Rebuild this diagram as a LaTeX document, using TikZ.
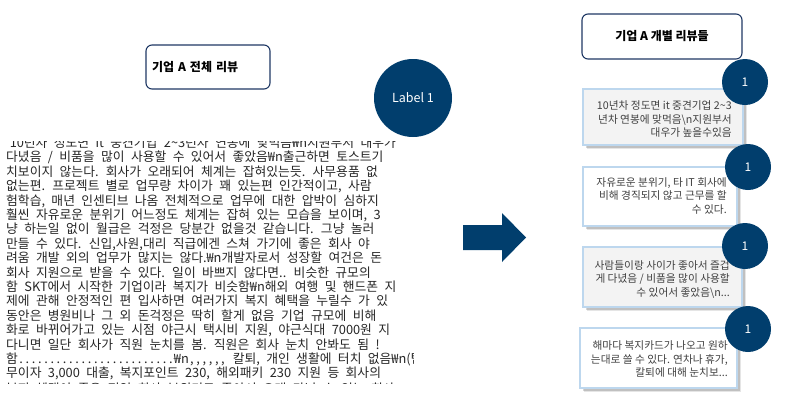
\documentclass[tikz,border=0pt]{standalone}
\usepackage{fontspec}
\setmainfont{Noto Sans CJK KR}
\usetikzlibrary{calc}
\definecolor{navy}{RGB}{1,62,109}
\definecolor{boxline}{RGB}{31,56,100}
\definecolor{cardline}{RGB}{189,215,238}
\definecolor{cardgray}{RGB}{243,243,243}
\definecolor{cardtext}{RGB}{64,64,64}
\newcommand\tld{\char126\relax}
\newcommand\rsp{\spaceskip=6.4pt\relax}
\newcommand\repchar[3]{\hbox to #1{\leaders\hbox to #2{\hss#3\hss}\hfill}}
\begin{document}
\begin{tikzpicture}[x=1pt,y=-1pt,
  titlebox/.style={draw=boxline, line width=1.1pt, rounded corners=6pt, fill=white,
    font=\bfseries\fontsize{12}{14}\selectfont},
  card/.style={draw=cardline, line width=1.4pt, inner sep=0pt},
  badge/.style={circle, fill=navy, text=white, inner sep=0pt},
  rev/.style={font=\fontsize{12.8}{14.4}\selectfont, text=black!85, anchor=base west, inner sep=0pt},
  cardtxt/.style={align=right, text=cardtext, font=\fontsize{10.7}{13.5}\selectfont, inner sep=0pt, anchor=east}
]
\useasboundingbox (0,0) rectangle (790,402);

% ---------- left: whole review ----------
\node[titlebox, minimum width=124pt, minimum height=44pt, text width=112pt, inner xsep=6pt, align=left] (t1) at (208,67) {기업 A 전체 리뷰};

\begin{scope}
\clip (0,141) rectangle (413,383);
\node[rev] (l1)  at (6,147.5) {\rsp '10년차 정도면 it 중견기업 2\tld3년차 연봉에 맞먹음₩n지원부서 대우가};
\node[rev] (l2)  at (6,161.9) {\rsp 다녔음 / 비품을 많이 사용할 수 있어서 좋았음₩n출근하면 토스트기};
\node[rev] (l3)  at (6,176.3) {\rsp 치보이지 않는다. 회사가 오래되어 체계는 잡혀있는듯. 사무용품 없};
\node[rev] (l4)  at (6,190.7) {\rsp 없는편. 프로젝트 별로 업무량 차이가 꽤 있는편 인간적이고, 사람};
\node[rev] (l5)  at (6,205.1) {\rsp 험학습, 매년 인센티브 나옴 전체적으로 업무에 대한 압박이 심하지};
\node[rev] (l6)  at (6,219.5) {\rsp 훨씬 자유로운 분위기 어느정도 체계는 잡혀 있는 모습을 보이며, 3};
\node[rev] (l7)  at (6,233.9) {\rsp 냥 하는일 없이 월급은 걱정은 당분간 없을것 같습니다. 그냥 놀러};
\node[rev] (l8)  at (6,248.3) {\rsp 만들 수 있다. 신입,사원,대리 직급에겐 스쳐 가기에 좋은 회사 야};
\node[rev] (l9)  at (6,262.7) {\rsp 려움 개발 외의 업무가 많지는 않다.₩n개발자로서 성장할 여건은 돈};
\node[rev] (l10) at (6,277.1) {\rsp 회사 지원으로 받을 수 있다. 일이 바쁘지 않다면.. 비슷한 규모의};
\node[rev] (l11) at (6,291.5) {\rsp 함 SKT에서 시작한 기업이라 복지가 비슷함₩n해외 여행 및 핸드폰 지};
\node[rev] (l12) at (6,305.9) {\rsp 제에 관해 안정적인 편 입사하면 여러가지 복지 혜택을 누릴수 가 있};
\node[rev] (l13) at (6,320.3) {\rsp 동안은 병원비나 그 외 돈걱정은 딱히 할게 없음 기업 규모에 비해};
\node[rev] (l14) at (6,334.7) {\rsp 화로 바뀌어가고 있는 시점 야근시 택시비 지원, 야근식대 7000원 지};
\node[rev] (l15) at (6,349.1) {\rsp 다니면 일단 회사가 직원 눈치를 봄. 직원은 회사 눈치 안봐도 됨 !};
\node[rev] (l16) at (6,363.5) {\rsp 함\repchar{156pt}{6.24pt}{.}₩n\repchar{37.5pt}{6.2pt}{,} 칼퇴, 개인 생활에 터치 없음₩n(팀별로};
\node[rev] (l17) at (6,377.9) {\rsp 무이자 3,000 대출, 복지포인트 230, 해외패키 230 지원 등 회사의};
\node[rev] (l18) at (6,393.3) {\rsp 복지 혜택이 좋은 편임 회사 분위기도 좋아서 오래 다닐 수 있는 회사};
\end{scope}

\node[badge, minimum size=78pt, font=\fontsize{12.5}{13}\selectfont] (lab) at (413,98) {Label 1};

% ---------- arrow ----------
\fill[navy] (463,225) -- (502,225) -- (502,213) -- (526,237.5) -- (502,262) -- (502,250) -- (463,250) -- cycle;

% ---------- right: individual reviews ----------
\node[titlebox, minimum width=160pt, minimum height=45pt] (t2) at (662,36.5) {기업 A 개별 리뷰들};

% shadows
\foreach \cx/\cy/\w/\h in {663/117/160/56, 660/196.5/154/59, 662.5/277/159/60, 658.5/358/157/60}{
  \fill[black, opacity=.10] (\cx-\w/2+4,\cy-\h/2+4) rectangle (\cx+\w/2+4,\cy+\h/2+4);
  \fill[black, opacity=.16] (\cx-\w/2+2.5,\cy-\h/2+2.5) rectangle (\cx+\w/2+2.5,\cy+\h/2+2.5);
}

\node[card, fill=cardgray, minimum width=160pt, minimum height=56pt] (c1) at (663,117) {};
\node[card, fill=white,    minimum width=154pt, minimum height=59pt] (c2) at (660,196.5) {};
\node[card, fill=cardgray, minimum width=159pt, minimum height=60pt] (c3) at (662.5,277) {};
\node[card, fill=white,    minimum width=157pt, minimum height=60pt] (c4) at (658.5,358) {};

\node[cardtxt] (c1t) at (732,119) {10년차 정도면 it 중견기업 2\tld3\\년차 연봉에 맞먹음\textbackslash n지원부서\\대우가 높을수있음};
\node[cardtxt] (c2t) at (727,195.5) {자유로운 분위기, 타 IT 회사에\\비해 경직되지 않고 근무를 할\\수 있다.};
\node[cardtxt] (c3t) at (730,279.5) {사람들이랑 사이가 좋아서 즐겁\\게 다녔음 / 비품을 많이 사용할\\수 있어서 좋았음\textbackslash n...};
\node[cardtxt] (c4t) at (728,359) {해마다 복지카드가 나오고 원하\\는대로 쓸 수 있다. 연차나 휴가,\\칼퇴에 대해 눈치보...};

\foreach \n/\px/\py in {b1/745/82, b2/748/167, b3/745/246, b4/748/329}{
  \node[badge, minimum size=46pt, font=\fontsize{12}{12}\selectfont] (\n) at (\px,\py) {1};
}
\end{tikzpicture}
\end{document}
